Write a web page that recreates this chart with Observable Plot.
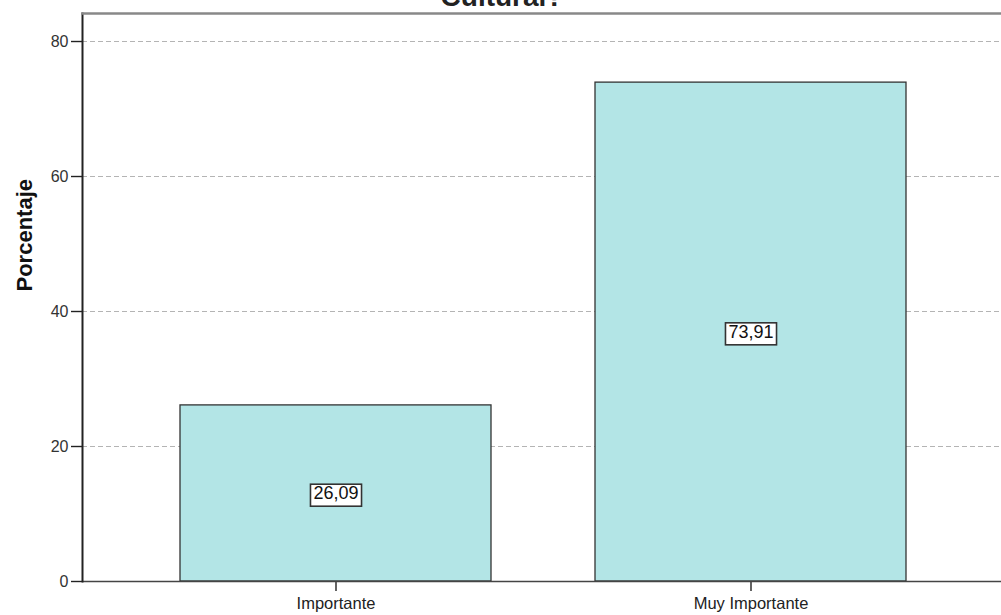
<!DOCTYPE html>
<html>
<head>
<meta charset="utf-8">
<script src="https://cdn.jsdelivr.net/npm/d3@7"></script>
<script src="https://cdn.jsdelivr.net/npm/@observablehq/plot@0.6"></script>
<style>
  html, body { margin: 0; padding: 0; background: #fff; overflow: hidden; }
  #chart svg { display: block; }
</style>
</head>
<body>
<div id="chart"></div>
<script>
const categories = ["Importante", "Muy Importante"];
const values = [26.09, 73.91];
const yTicks = [0, 20, 40, 60, 80];
const yLabel = "Porcentaje";
const title = "Cultural?";

const data = categories.map((c, i) => ({category: c, value: values[i], label: values[i].toFixed(2).replace(".", ",")}));

const W = 1001, H = 615;
const mL = 82, mT = 13, mB = 34;

const chart = Plot.plot({
  width: W,
  height: H,
  marginLeft: mL,
  marginRight: 0,
  marginTop: mT,
  marginBottom: mB,
  style: {fontFamily: "Arial, 'Liberation Sans', sans-serif", fontSize: "16px", color: "#222", background: "#fff"},
  x: {domain: categories, range: [mL, 1005], paddingInner: 0.25, paddingOuter: 0.236, label: null, axis: null},
  y: {domain: [0, 84.15], ticks: yTicks, label: null, axis: null},
  marks: [
    Plot.gridY(yTicks.filter(d => d > 0), {stroke: "#b4b4b4", strokeOpacity: 1, strokeDasharray: "5,3", strokeWidth: 1}),
    Plot.barY(data, {x: "category", y: "value", fill: "#b3e5e6", stroke: "#333", strokeWidth: 1.3}),
    Plot.axisY(yTicks, {tickSize: 11, tickPadding: 3, stroke: "#222", fill: "#333", fontSize: 16, label: null, strokeWidth: 1.4}),
    Plot.axisX({tickSize: 10, tickPadding: 6, stroke: "#222", fill: "#222", fontSize: 16.5, label: null, strokeWidth: 1.4}),
    Plot.ruleY([0], {stroke: "#444", strokeWidth: 1.6}),
    Plot.frame({anchor: "left", stroke: "#222", strokeWidth: 2}),
    Plot.frame({anchor: "top", stroke: "#888", strokeWidth: 2.5}),
    Plot.text(data, {x: "category", y: d => d.value / 2, text: "label", fontSize: 18, fill: "#111", className: "vlabel"}),
    Plot.text([title], {frameAnchor: "top", dx: -40, dy: -8, lineAnchor: "bottom", text: d => d, fontSize: 28, fontWeight: "bold", fill: "#222"}),
    Plot.text([yLabel], {frameAnchor: "left", dx: -58, dy: -6, rotate: -90, text: d => d, fontSize: 22, fontWeight: "bold", fill: "#111"})
  ]
});
document.getElementById("chart").appendChild(chart);

// draw boxes behind value labels
chart.querySelectorAll(".vlabel text").forEach(t => {
  const b = t.getBBox();
  const r = document.createElementNS("http://www.w3.org/2000/svg", "rect");
  r.setAttribute("x", b.x - 3);
  r.setAttribute("y", b.y + 1);
  r.setAttribute("width", b.width + 6);
  r.setAttribute("height", b.height + 2);
  r.setAttribute("fill", "#fff");
  r.setAttribute("stroke", "#333");
  r.setAttribute("stroke-width", 1.6);
  const tr = t.getAttribute("transform");
  if (tr) r.setAttribute("transform", tr);
  t.parentNode.insertBefore(r, t);
});
</script>
</body>
</html>
